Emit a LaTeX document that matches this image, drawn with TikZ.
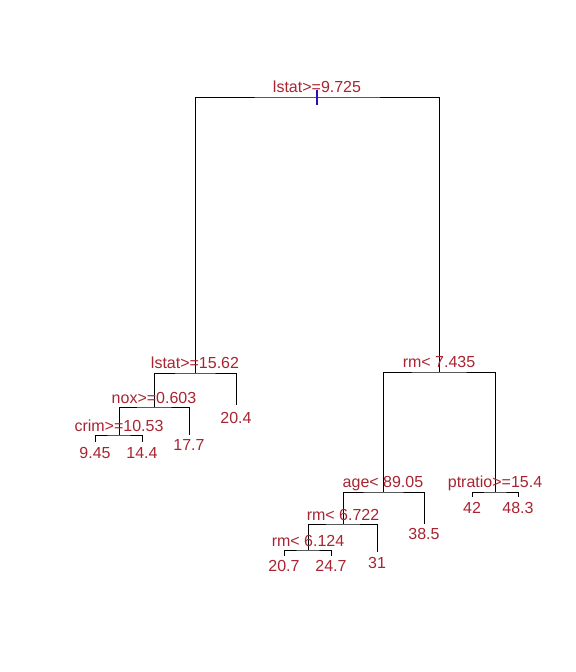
\documentclass[tikz,border=0pt]{standalone}
\usepackage{fontspec}
\setmainfont{Liberation Sans}
\usepackage{xcolor}
\definecolor{lab}{RGB}{168,36,48}
\definecolor{tk}{RGB}{45,15,175}

\begin{document}
\begin{tikzpicture}[x=1bp, y=-1bp, line width=1bp,
    split/.style={lab, anchor=base, inner sep=0pt, font=\fontsize{16bp}{19bp}\selectfont},
    leaf/.style={lab, anchor=north, inner sep=0pt, font=\fontsize{16bp}{19bp}\selectfont}]
        \useasboundingbox (0,0) rectangle (576,672);
        % tree nodes
        \coordinate (r) at (317,98);
        \coordinate (a) at (195,373);
        \coordinate (b) at (154,407);
        \coordinate (c) at (119,435);
        \coordinate (d) at (439,372);
        \coordinate (e) at (383,492);
        \coordinate (f) at (343,524);
        \coordinate (g) at (308,550);
        \coordinate (h) at (495,492);
        % leaves
        \coordinate (l1) at (95,442);
        \coordinate (l2) at (142,442);
        \coordinate (l3) at (189,435);
        \coordinate (l4) at (236,405);
        \coordinate (l5) at (284,556);
        \coordinate (l6) at (331,556);
        \coordinate (l7) at (377,552);
        \coordinate (l8) at (424,524);
        \coordinate (l9) at (472,497);
        \coordinate (l10) at (518,497);
        % branches
        \draw (a) |- (r) -| (d);
        \draw (b) |- (a) -| (l4);
        \draw (c) |- (b) -| (l3);
        \draw (l1) |- (c) -| (l2);
        \draw (e) |- (d) -| (h);
        \draw (f) |- (e) -| (l8);
        \draw (g) |- (f) -| (l7);
        \draw (l5) |- (g) -| (l6);
        \draw (l9) |- (h) -| (l10);
        \draw[tk, line width=1.2bp] ([yshift=8bp]r) -- ([yshift=-7bp]r);
        % split labels
        \node[split] (sr) at (317,93) {lstat>=9.725};
        \node[split] (sa) at (195,368) {lstat>=15.62};
        \node[split] (sb) at (154,403) {nox>=0.603};
        \node[split] (sc) at (119,431) {crim>=10.53};
        \node[split] (sd) at (439,367) {rm< 7.435};
        \node[split] (se) at (383,487) {age< 89.05};
        \node[split] (sf) at (343,520) {rm< 6.722};
        \node[split] (sg) at (308,546) {rm< 6.124};
        \node[split] (sh) at (495,487) {ptratio>=15.4};
        % leaf labels
        \node[leaf] (t1) at ([yshift=-5bp]l1) {9.45};
        \node[leaf] (t2) at ([yshift=-5bp]l2) {14.4};
        \node[leaf] (t3) at ([yshift=-4bp]l3) {17.7};
        \node[leaf] (t4) at ([yshift=-7bp]l4) {20.4};
        \node[leaf] (t5) at ([yshift=-4bp]l5) {20.7};
        \node[leaf] (t6) at ([yshift=-4bp]l6) {24.7};
        \node[leaf] (t7) at ([yshift=-5bp]l7) {31};
        \node[leaf] (t8) at ([yshift=-4bp]l8) {38.5};
        \node[leaf] (t9) at ([yshift=-5bp]l9) {42};
        \node[leaf] (t10) at ([yshift=-5bp]l10) {48.3};
    \end{tikzpicture}
\end{document}
